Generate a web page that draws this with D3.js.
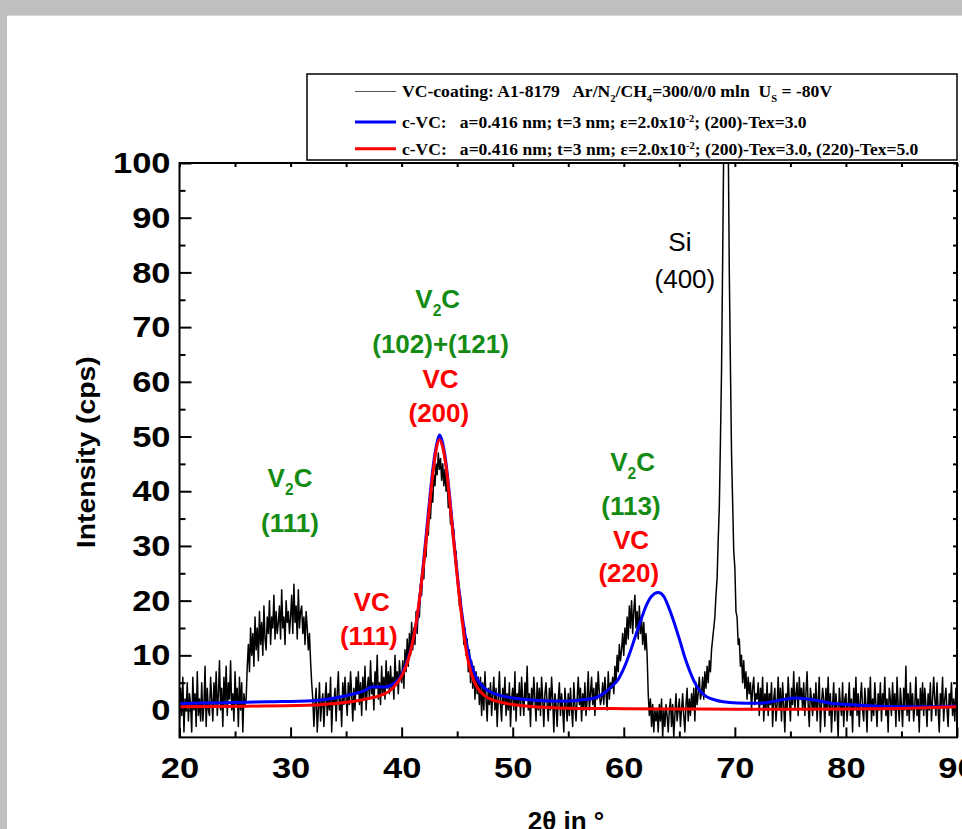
<!DOCTYPE html>
<html lang="en">
<head>
<meta charset="UTF-8">
<title>XRD pattern of VC coating</title>
<script src="https://d3js.org/d3.v7.min.js"></script>
<style>
  html, body { margin: 0; padding: 0; background: #c0c0c0; }
  svg { display: block; }
</style>
</head>
<body>
<svg width="962" height="829"></svg>
<script>

// measured scan: 2theta from 20 deg in 0.1 deg steps, counts per second
const scanStart = 20;
const scanStep = 0.1;
const scanCounts = [
  -3, 4, -1, 6, -4, 2, 0, 5, -2, 3,
  1, -4, 6, 0, 3, -3, 7, -1, 2, -2,
  5, -2, 1, 8, -3, 4, 0, -1, 6, 2,
  -2, 5, 1, 7, -1, 3, 9, 0, 4, -3,
  6, 1, 8, -1, 5, 2, 9, 0, 3, -2,
  7, 1, 4, -3, 6, 0, 5, -4, 3, 1,
  2, 8, 12, 7, 15, 10, 14, 8, 17, 11,
  15, 9, 18, 12, 16, 10, 19, 13, 11, 17,
  14, 20, 12, 17, 15, 21, 13, 18, 14, 16,
  19, 13, 22, 15, 17, 12, 20, 16, 18, 14,
  17, 21, 14, 23, 16, 19, 13, 22, 15, 18,
  19, 14, 17, 12, 18, 15, 11, 14, 9, 5,
  2, -3, 1, 4, -4, 0, 5, -2, 1, 3,
  -3, 2, 5, -1, 3, 0, 6, -4, 2, 1,
  4, -2, 3, 7, 0, 2, -3, 5, 1, 6,
  2, -1, 5, 1, 7, 3, -2, 4, 0, 6,
  3, 7, 1, 5, -1, 6, 2, 8, 0, 4,
  6, 2, 9, 3, 5, 0, 7, 4, 10, 2,
  5, 1, 8, 3, 6, 2, 9, 4, 7, 3,
  8, 4, 6, 2, 10, 5, 7, 3, 9, 6,
  5, 9, 4, 11, 7, 13, 8, 14, 10, 16,
  11, 15, 12, 18, 14, 19, 17, 23, 21, 26,
  24, 30, 28, 34, 32, 37, 35, 40, 38, 43,
  41, 45, 43, 47, 44, 46, 42, 45, 41, 44,
  40, 42, 37, 39, 34, 36, 31, 33, 27, 29,
  24, 22, 19, 21, 16, 17, 12, 15, 10, 13,
  7, 11, 5, 9, 4, 8, 2, 7, 3, 6,
  1, 6, -1, 5, 0, 7, 2, -2, 4, 1,
  5, -1, 3, 6, 0, 4, -3, 2, 7, 1,
  -2, 4, 1, 6, -1, 3, 0, 5, -3, 2,
  4, 0, 7, -2, 3, 1, 5, -1, 6, 2,
  -1, 5, 2, 8, 0, 3, -3, 4, 1, 6,
  2, -2, 5, 0, 4, -1, 6, 2, -3, 3,
  5, 1, -2, 4, 0, 6, 2, -4, 3, 1,
  -3, 2, 5, -1, 3, 0, -4, 4, 1, -2,
  3, -1, 4, 0, -3, 5, 1, -2, 2, 6,
  1, 4, -2, 3, 0, 5, -1, 2, 7, 0,
  3, 6, 1, 4, -1, 5, 2, 7, 3, 1,
  2, 5, 1, 6, 3, 0, 7, 2, 5, 4,
  6, 3, 8, 5, 10, 7, 12, 9, 11, 14,
  10, 15, 12, 17, 13, 19, 15, 20, 14, 18,
  21, 15, 18, 13, 19, 14, 17, 12, 16, 11,
  14, 10, 3, -1, 2, -3, 1, -4, 0, -2,
  0, -4, 1, -2, 2, -5, 0, -3, 1, -1,
  -4, 0, 2, -3, 1, -5, -1, 3, -2, 0,
  2, -3, 0, 3, -1, -4, 1, 4, -2, 2,
  -1, 3, 0, 4, -2, 5, 1, 3, 6, 2,
  3, 6, 2, 7, 4, 8, 5, 9, 7, 11,
  13, 15, 17, 21, 24, 31, 37, 49, 62, 82,
  104, 126, 136, 125, 105, 80, 63, 47, 38, 29,
  26, 18, 17, 12, 13, 8, 10, 5, 9, 4,
  7, 2, 6, 3, 5, 0, 4, 6, 1, 3,
  2, 5, -1, 4, 1, 6, -2, 3, 0, 5,
  -1, 3, 1, 5, -3, 2, 4, -2, 1, 6,
  0, 4, -2, 5, 1, -4, 3, 0, 6, 2,
  -2, 4, 1, 7, 0, 3, 5, -1, 6, 2,
  4, 0, 5, -1, 3, 7, 1, -3, 4, 2,
  -1, 3, 0, 5, -2, 2, 6, -4, 1, 4,
  2, -3, 4, 0, 6, -1, 3, -4, 1, 5,
  -2, 3, 0, -5, 4, 1, -1, 5, -3, 2,
  3, -2, 1, 5, -1, 2, -4, 4, 0, 6,
  -1, 3, -3, 2, 5, 0, -2, 4, 1, -4,
  4, 0, 6, -2, 2, -1, 5, 1, -3, 3,
  0, 5, -2, 3, 1, 6, -1, 2, -4, 4,
  2, -1, 5, 0, 3, -3, 6, 1, -2, 4,
  1, -3, 4, 0, 8, -1, 3, -2, 5, 0,
  3, -2, 1, 6, -1, 2, -4, 4, 0, 5,
  -1, 4, 1, -3, 3, 0, 5, -2, 2, 6,
  2, -1, 5, 0, -4, 3, 1, 6, -2, 2,
  4, 0, -3, 3, 1, 5, -1, 2, -2, 4,
  1
];

// simulated c-VC, (200) texture only
const blueTheta = [20, 24, 28, 32, 34, 35.5, 36.5, 37.3, 37.8, 38.5, 39.2, 39.8, 40.4, 41, 41.4,
  41.9, 42.4, 42.9, 43.2, 43.4, 43.6, 43.9, 44.3, 44.7, 45.1, 45.5, 45.9, 46.4, 47, 47.5,
  48.5, 50, 52, 54.5, 56, 57.5, 58.3, 59, 59.5, 60, 60.5, 61, 61.5, 62, 62.5, 63.1, 63.6,
  64, 64.5, 65, 65.5, 66, 66.5, 67, 67.5, 68.3, 69.5, 71, 72.5, 74, 75.5, 77, 78.5, 80.5,
  83, 86, 88, 90];
const blueCounts = [1.2, 1.35, 1.5, 1.7, 2.2, 2.9, 3.4, 4.2, 4.25, 4.2, 4.7, 5.8, 8.4, 12.5, 16.8,
  25.6, 36, 45.5, 49, 50.3, 49.5, 46.5, 39.5, 31, 23, 16.5, 11.5, 7.5, 5.0, 3.9,
  2.9, 2.2, 1.8, 1.6, 1.8, 2.3, 3.2, 4.5, 5.6, 7.6, 10.2, 13.2, 16.2, 19, 20.8, 21.5, 20.8,
  19, 16.2, 13, 9.6, 6.8, 4.6, 3.2, 2.4, 1.8, 1.4, 1.25, 1.3, 1.8, 2.2, 1.9, 1.3, 0.95,
  0.7, 0.6, 0.6, 0.75];

// simulated c-VC, (200) and (220) texture
const redTheta = [20, 26, 32, 34, 36, 37.2, 38, 39.2, 40, 40.5, 41, 41.35, 41.65, 42, 42.4,
  42.8, 43.1, 43.4, 43.7, 44, 44.5, 45.1, 45.5, 45.85, 46.3, 46.75, 47.5, 48, 49, 50,
  52, 55, 60, 65, 70, 75, 80, 85, 88, 90];
const redCounts = [0.6, 0.7, 0.9, 1.2, 1.7, 2.2, 2.6, 4.0, 6.2, 8.6, 12.5, 16.5, 21, 27, 35,
  43, 47.5, 49.4, 48, 44.5, 34.7, 22.5, 15.5, 10.4, 6.5, 4.3, 2.6, 2.0, 1.4, 1.0,
  0.6, 0.35, 0.25, 0.2, 0.15, 0.15, 0.2, 0.3, 0.45, 0.6];

const xMajorTicks = [20, 30, 40, 50, 60, 70, 80, 90];
const xMinorTicks = [25, 35, 45, 55, 65, 75, 85];
const yMajorTicks = [0, 10, 20, 30, 40, 50, 60, 70, 80, 90, 100];
const yMinorTicks = [5, 15, 25, 35, 45, 55, 65, 75, 85, 95];

const legendRows = [
  ["VC-coating: A1-8179   Ar/N", ["2", "sub"], "/CH", ["4", "sub"], "=300/0/0 mln  U", ["S", "sub"], " = -80V"],
  ["c-VC:   a=0.416 nm; t=3 nm; \u03b5=2.0x10", ["-2", "sup"], "; (200)-Tex=3.0"],
  ["c-VC:   a=0.416 nm; t=3 nm; \u03b5=2.0x10", ["-2", "sup"], "; (200)-Tex=3.0, (220)-Tex=5.0"]
];

const SANS = "'Liberation Sans', Arial, Helvetica, sans-serif";
const SERIF = "'Liberation Serif', 'Times New Roman', serif";
const GREEN = "#148c14";

const svg = d3.select("svg");

// slide background
svg.append("rect").attr("x", 7).attr("y", 15).attr("width", 955).attr("height", 814).attr("fill", "#fff");
svg.append("line").attr("x1", 7).attr("x2", 962).attr("y1", 15.5).attr("y2", 15.5)
    .attr("stroke", "#d6d6d6").attr("stroke-width", 1);

const plot = { left: 179.5, right: 957, top: 163, bottom: 737.4 };
const x = d3.scaleLinear().domain([20, 90]).range([plot.left, plot.right]);
const y = d3.scaleLinear().domain([-5, 100]).range([plot.bottom, plot.top]);

svg.append("clipPath").attr("id", "plot-clip").append("rect")
    .attr("x", plot.left).attr("y", plot.top)
    .attr("width", plot.right - plot.left).attr("height", plot.bottom - plot.top);

const scan = scanCounts.map((c, i) => ({ t: scanStart + i * scanStep, c }));
const blue = blueTheta.map((t, i) => ({ t, c: blueCounts[i] }));
const red = redTheta.map((t, i) => ({ t, c: redCounts[i] }));

const rawLine = d3.line().x(d => x(d.t)).y(d => y(d.c));
const fitLine = d3.line().x(d => x(d.t)).y(d => y(d.c)).curve(d3.curveMonotoneX);

const curves = svg.append("g").attr("clip-path", "url(#plot-clip)");
curves.append("path").datum(scan).attr("d", rawLine)
    .attr("fill", "none").attr("stroke", "#000").attr("stroke-width", 1.5).attr("stroke-linejoin", "round");
curves.append("path").datum(blue).attr("d", fitLine)
    .attr("fill", "none").attr("stroke", "#0000ff").attr("stroke-width", 3);
curves.append("path").datum(red).attr("d", fitLine)
    .attr("fill", "none").attr("stroke", "#ff0000").attr("stroke-width", 3);

// axes: ticks point inward, frame drawn separately
function addAxis(gen, tx, ty) {
    return svg.append("g").attr("transform", `translate(${tx},${ty})`).call(gen)
        .call(g => g.select(".domain").remove())
        .call(g => g.selectAll(".tick line").attr("stroke-width", 2));
}
function styleLabels(g, shiftX) {
    g.selectAll("text").attr("font-size", 30).attr("font-weight", "bold")
        .attr("font-family", SANS).attr("fill", "#000")
        .attr("x", 0).attr("transform", `translate(${shiftX},0) scale(1.15,1)`);
}

addAxis(d3.axisBottom(x).tickValues(xMinorTicks).tickSizeInner(-6).tickSizeOuter(0).tickFormat(""), 0, plot.bottom);
addAxis(d3.axisBottom(x).tickValues(xMajorTicks).tickSizeInner(-10).tickSizeOuter(0).tickPadding(19)
    .tickFormat(d3.format("d")), 0, plot.bottom).call(styleLabels, 0);
addAxis(d3.axisTop(x).tickValues(xMajorTicks.concat(xMinorTicks)).tickSizeInner(-4).tickSizeOuter(0).tickFormat(""), 0, plot.top);

addAxis(d3.axisLeft(y).tickValues(yMinorTicks).tickSizeInner(-6).tickSizeOuter(0).tickFormat(""), plot.left, 0);
addAxis(d3.axisLeft(y).tickValues(yMajorTicks).tickSizeInner(-12).tickSizeOuter(0)
    .tickFormat(d3.format("d")), plot.left, 0).call(styleLabels, -9);
addAxis(d3.axisRight(y).tickValues(yMajorTicks.concat(yMinorTicks)).tickSizeInner(-4).tickSizeOuter(0).tickFormat(""), plot.right, 0);

svg.append("rect")
    .attr("x", plot.left).attr("y", plot.top)
    .attr("width", plot.right - plot.left).attr("height", plot.bottom - plot.top)
    .attr("fill", "none").attr("stroke", "#000").attr("stroke-width", 2);

// axis titles
svg.append("text")
    .attr("transform", `translate(95,${(plot.top + plot.bottom) / 2 + 2}) rotate(-90)`)
    .attr("text-anchor", "middle").attr("font-family", SANS).attr("font-weight", "bold")
    .attr("font-size", 25).attr("textLength", 192).attr("lengthAdjust", "spacingAndGlyphs")
    .text("Intensity (cps)");
svg.append("text")
    .attr("x", 566).attr("y", 830)
    .attr("text-anchor", "middle").attr("font-family", SANS).attr("font-weight", "bold")
    .attr("font-size", 26).text("2\u03b8 in \u00b0");

// text with sub/superscript parts
function richText(sel, parts, size) {
    let shift = 0;
    parts.forEach(p => {
        const str = typeof p === "string" ? p : p[0];
        const kind = typeof p === "string" ? null : p[1];
        const want = kind === "sub" ? size * 0.3 : kind === "sup" ? -size * 0.38 : 0;
        const ts = sel.append("tspan").text(str);
        if (want !== shift) ts.attr("dy", want - shift);
        if (kind) ts.attr("font-size", size * 0.6);
        shift = want;
    });
    return sel;
}

// peak labels
const peakLabels = [
    { t: 29.95, c: 40.8, parts: ["V", ["2", "sub"], "C"], color: GREEN },
    { t: 29.95, c: 32.6, parts: ["(111)"], color: GREEN },
    { t: 37.3, c: 18.1, parts: ["VC"], color: "#ff0000" },
    { t: 37.05, c: 11.9, parts: ["(111)"], color: "#ff0000" },
    { t: 43.25, c: 73.5, parts: ["V", ["2", "sub"], "C"], color: GREEN },
    { t: 43.5, c: 65.3, parts: ["(102)+(121)"], color: GREEN },
    { t: 43.5, c: 58.9, parts: ["VC"], color: "#ff0000" },
    { t: 43.35, c: 52.7, parts: ["(200)"], color: "#ff0000" },
    { t: 60.8, c: 43.7, parts: ["V", ["2", "sub"], "C"], color: GREEN },
    { t: 60.65, c: 35.7, parts: ["(113)"], color: GREEN },
    { t: 60.65, c: 29.4, parts: ["VC"], color: "#ff0000" },
    { t: 60.45, c: 23.4, parts: ["(220)"], color: "#ff0000" },
    { t: 65.05, c: 83.9, parts: ["Si"], color: "#000", normal: true },
    { t: 65.5, c: 77.1, parts: ["(400)"], color: "#000", normal: true }
];
peakLabels.forEach(d => {
    const txt = svg.append("text")
        .attr("x", x(d.t)).attr("y", y(d.c))
        .attr("text-anchor", "middle").attr("font-family", SANS)
        .attr("font-weight", d.normal ? "normal" : "bold")
        .attr("font-size", 26).attr("fill", d.color);
    richText(txt, d.parts, 26);
});

// legend
const legend = svg.append("g");
legend.append("rect").attr("x", 307).attr("y", 74).attr("width", 650).attr("height", 86)
    .attr("fill", "#fff").attr("stroke", "#000").attr("stroke-width", 1.5);
const legendStyles = [
    { color: "#555", width: 1.2, y: 91.5 },
    { color: "#0000ff", width: 3, y: 122 },
    { color: "#ff0000", width: 3, y: 148.7 }
];
const legendEnds = [833, 807, 919];
legendRows.forEach((row, i) => {
    const s = legendStyles[i];
    legend.append("line").attr("x1", 355).attr("x2", 396).attr("y1", s.y).attr("y2", s.y)
        .attr("stroke", s.color).attr("stroke-width", s.width);
    const txt = legend.append("text")
        .attr("x", 402).attr("y", s.y + 6)
        .attr("font-family", SERIF).attr("font-weight", "bold").attr("font-size", 16)
        .style("white-space", "pre");
    richText(txt, row, 16);
    const w = txt.node().getBBox().width;
    const k = (legendEnds[i] - 402) / w;
    txt.attr("transform", `translate(402,0) scale(${k},1) translate(-402,0)`);
});

</script>
</body>
</html>
